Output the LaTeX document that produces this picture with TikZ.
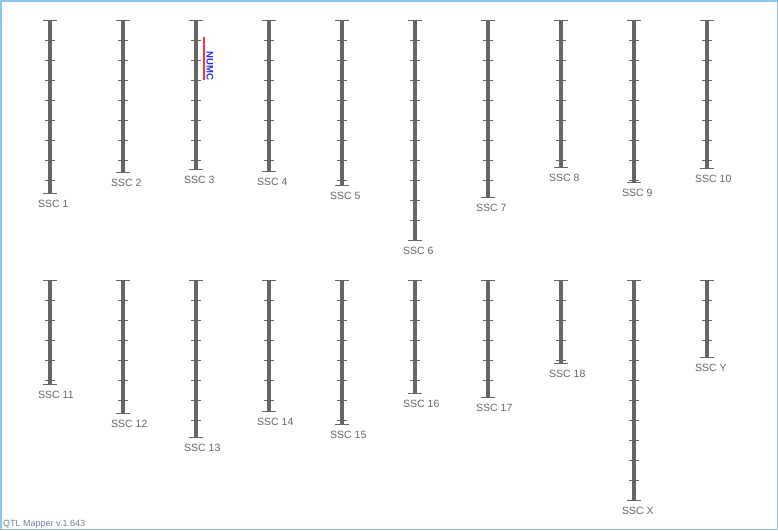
\documentclass[tikz,border=0pt]{standalone}
\usepackage{fontspec}
\setmainfont{Liberation Sans}
\definecolor{chrgrey}{HTML}{666666}
\definecolor{framblue}{HTML}{8CC4EC}
\definecolor{footgrey}{HTML}{6E8094}
\definecolor{markred}{HTML}{FF3340}
\definecolor{markblue}{HTML}{2A2AF0}
\tikzset{
  chrbar/.style={chrgrey,line width=4pt},
  chrtick/.style={chrgrey,line width=1pt},
  chrlabel/.style={anchor=west,inner sep=0pt,text=chrgrey,font=\fontsize{10.5}{12}\selectfont},
}
\begin{document}
\begin{tikzpicture}[x=1pt,y=-1pt]
\useasboundingbox (0,0) rectangle (778,530);
\draw[framblue,line width=1.5pt] (.75,.75) rectangle (777.25,529.25);
% chromosomes: x / top / bottom / name
\foreach \cx/\ctop/\cbot/\cname in {50/20/193/1,123/20/172/2,196/20/169/3,269/20/171/4,342/20/185/5,
  415/20/240/6,488/20/197/7,561/20/167/8,634/20/182/9,707/20/168/10,
  50/280/384/11,123/280/413/12,196/280/437/13,269/280/411/14,342/280/424/15,
  415/280/393/16,488/280/397/17,561/280/363/18,634/280/500/X,707/280/357/Y}{
  \draw[chrbar] (\cx,\ctop)--(\cx,\cbot);
  \draw[chrtick] (\cx-7,\ctop)--(\cx+7,\ctop);
  \draw[chrtick] (\cx-7,\cbot)--(\cx+7,\cbot);
  \pgfmathtruncatemacro\tfirst{\ctop+20}
  \pgfmathtruncatemacro\tsecond{\ctop+40}
  \pgfmathtruncatemacro\tlast{\cbot-1}
  \foreach \ty in {\tfirst,\tsecond,...,\tlast}
    \draw[chrtick] (\cx-5,\ty)--(\cx+5,\ty);
  \node[chrlabel] (ssc\cname) at (\cx-12,\cbot+10.5) {SSC \cname};
}
% QTL marker on SSC 3
\draw[draw=markred,line width=2pt] (203.7,37)--(203.7,80);
\node[rotate=-90,inner sep=0pt,text=markblue,font=\bfseries\fontsize{9.5}{10}\selectfont] (numc) at (210,66) {NUMC};
\node[anchor=base west,inner sep=0pt,text=footgrey,font=\fontsize{9}{10}\selectfont] (version) at (3,526) {QTL Mapper v.1.643};
\end{tikzpicture}
\end{document}
